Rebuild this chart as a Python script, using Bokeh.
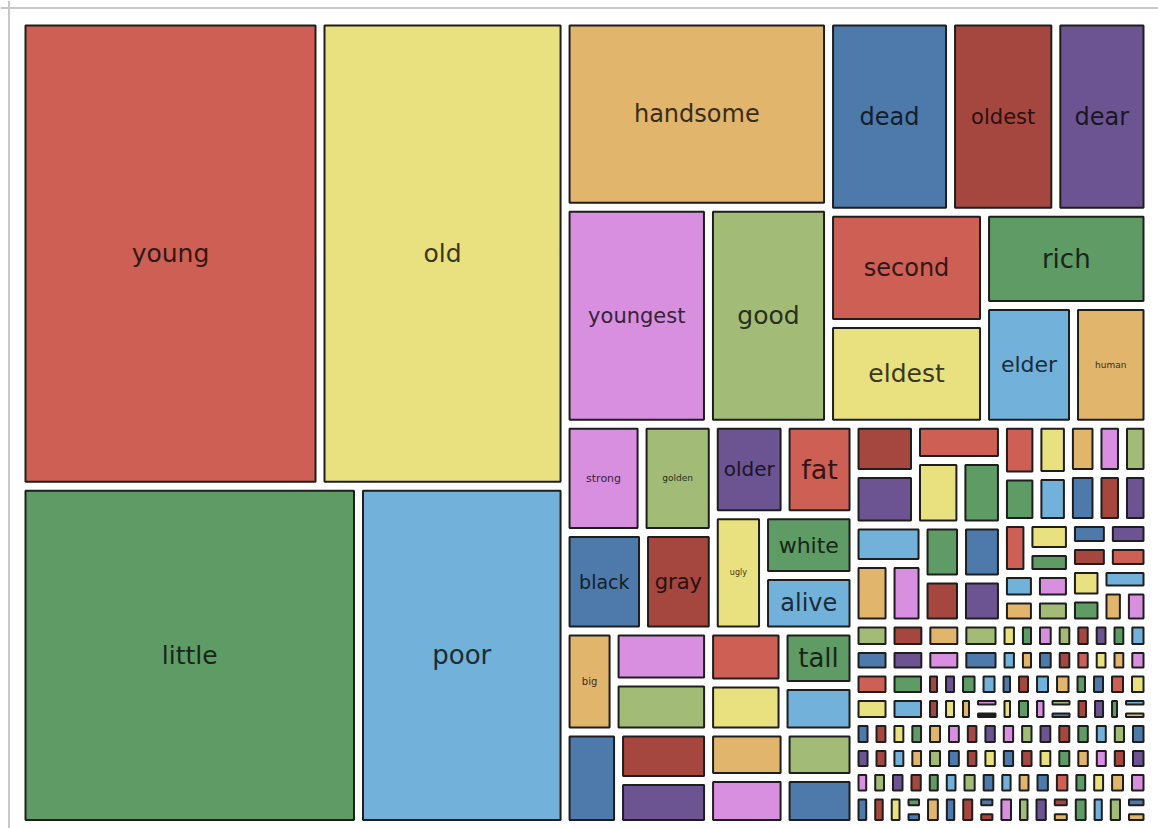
from bokeh.plotting import figure
from bokeh.models import Range1d, ColumnDataSource, Span
from bokeh.core.properties import value
from bokeh.embed import file_html
from bokeh.resources import INLINE

# ---------------- data ----------------
PALETTE = {
    "red": "#cd5f55", "yellow": "#e9e07f", "orange": "#e2b56d", "blue": "#4e79ab",
    "dred": "#a5463f", "purple": "#6c5493", "pink": "#d88fe0", "lgreen": "#a2bc78",
    "green": "#5f9b64", "lblue": "#72b1d9", "black": "#1e1e1e",
}

main_words = ["young", "old", "little", "poor", "handsome", "youngest", "good",
              "dead", "oldest", "dear", "second", "eldest", "rich", "elder", "human"]
main_values = [1391, 1140, 1142, 699, 490.6, 311.2, 260.6,
               233.3, 201.3, 176.3, 173.6, 157.1, 152.5, 105.6, 88.4]
main_colors = ["red", "yellow", "green", "lblue", "orange", "pink", "lgreen",
               "blue", "dred", "purple", "red", "yellow", "green", "lblue", "orange"]

mid_words = ["strong", "golden", "black", "gray", "older", "fat", "ugly", "white", "alive",
             "big", "", "", "", "", "tall", "",
             "", "", "", "", "", "", ""]
mid_values = [83.4, 77.1, 77.3, 68.7, 65.1, 62.5, 58.4, 54.9, 50.2,
              49.5, 48.2, 47.3, 38.7, 36.5, 38.7, 33.0,
              49.5, 43.7, 39.6, 34.8, 36.0, 31.4, 32.4]
mid_colors = ["pink", "lgreen", "blue", "dred", "purple", "red", "yellow", "green", "lblue",
              "orange", "pink", "lgreen", "red", "yellow", "green", "lblue",
              "blue", "dred", "purple", "orange", "pink", "lgreen", "blue"]

small_values = [30.3, 31.7, 31.6, 29.3, 26.8, 26.6, 21.4, 19.6, 20.8, 22.1, 16.9, 18.0,
                17.9, 16.0, 16.2, 14.8, 14.1, 14.0, 12.6, 12.5, 12.6, 12.5,
                13.0, 12.3, 9.4, 8.4, 7.9, 8.9, 8.4, 8.7, 9.1, 8.7, 9.1, 9.3, 7.9, 9.9, 7.4, 7.8]
small_colors = ["dred", "purple", "red", "yellow", "green", "lblue", "orange", "pink", "green", "blue", "dred", "purple",
                "red", "green", "yellow", "lblue", "orange", "blue", "pink", "dred", "lgreen", "purple",
                "red", "yellow", "green", "lblue", "orange", "pink", "lgreen", "blue", "purple", "dred", "red",
                "yellow", "green", "lblue", "orange", "pink"]

row1_values = [9.18, 9.13, 9.18, 9.74, 4.69, 4.36, 5.02, 4.74, 4.69, 4.54, 4.54, 5.15]
row1_colors = ["lgreen", "dred", "orange", "lgreen", "yellow", "green", "pink", "lgreen", "dred", "purple", "green", "lblue"]
row2_values = [8.46, 8.41, 8.46, 8.98, 4.32, 4.02, 4.63, 4.37, 4.32, 4.18, 4.18, 4.75]
row2_colors = ["blue", "purple", "pink", "blue", "lblue", "orange", "blue", "dred", "red", "yellow", "orange", "pink"]
row3_values = [8.82, 8.70, 3.92, 4.17, 5.02, 4.90, 3.80, 4.41, 4.90, 5.02, 4.04, 4.41, 4.90, 5.02]
row3_colors = ["red", "green", "dred", "purple", "green", "lblue", "blue", "dred", "lblue", "orange", "green", "blue", "red", "yellow"]
row4_values = [9.0, 8.88, 4.0, 4.25, 3.75, [3.31, 3.31], 3.63, 4.5, 3.88, [3.25, 3.25], 4.13, 4.25, 3.5, [3.31, 3.31]]
row4_colors = ["yellow", "lblue", "dred", "yellow", "orange", ["pink", "black"], "yellow", "green", "pink",
               ["lgreen", "blue"], "dred", "purple", "green", ["lblue", "orange"]]
row5_values = [4.5, 4.48, 4.48, 4.43, 4.75, 4.7, 4.4, 4.6, 4.58, 4.6, 4.7, 4.75, 4.63, 4.5, 4.55, 4.88]
row5_colors = ["blue", "dred", "yellow", "green", "orange", "pink", "dred", "purple", "pink", "lgreen",
               "purple", "dred", "green", "lblue", "lgreen", "blue"]
row6_values = [4.32, 4.3, 4.3, 4.25, 4.56, 4.51, 4.22, 4.42, 4.39, 4.42, 4.51, 4.56, 4.44, 4.32, 4.37, 4.68]
row6_colors = ["purple", "dred", "lblue", "orange", "lgreen", "blue", "dred", "yellow", "blue", "dred",
               "yellow", "green", "orange", "pink", "dred", "purple"]
row7_values = [4.09, 4.36, 4.53, 4.48, 4.17, 4.34, 4.70, 4.56, 4.24, 4.39, 4.75, 4.78, 4.36, 4.39, 4.88, 5.02]
row7_colors = ["pink", "lgreen", "purple", "dred", "green", "lblue", "lgreen", "blue", "lblue", "orange",
               "blue", "red", "green", "yellow", "orange", "pink"]
row8_values = [4.93, 4.87, 4.96, [2.88, 2.88], 5.55, 4.84, 5.31, [2.98, 2.98], 5.49, 4.87, 5.40,
               [3.1, 3.1], 5.55, 4.78, 5.37, [3.47, 3.47]]
row8_colors = ["blue", "dred", "yellow", ["green", "blue"], "orange", "blue", "dred", ["blue", "dred"], "pink",
               "lgreen", "purple", ["dred", "orange"], "green", "lblue", "lgreen", ["blue", "orange"]]

rows_values = [row1_values, row2_values, row3_values, row4_values,
               row5_values, row6_values, row7_values, row8_values]
rows_colors = [row1_colors, row2_colors, row3_colors, row4_colors,
               row5_colors, row6_colors, row7_colors, row8_colors]

label_size = {"young": 25, "old": 25, "little": 25, "poor": 26, "handsome": 24, "dead": 24,
              "oldest": 21, "dear": 24, "youngest": 21, "good": 25, "second": 24, "rich": 26,
              "eldest": 25, "elder": 22, "human": 9, "strong": 11, "golden": 9, "older": 20,
              "fat": 27, "black": 19, "gray": 21, "ugly": 8, "white": 22, "alive": 24,
              "tall": 26, "big": 10}


def flat(seq):
    out = []
    for v in seq:
        if isinstance(v, list):
            out.extend(v)
        else:
            out.append(v)
    return out


values = main_values + mid_values + small_values
colors = main_colors + mid_colors + small_colors
for rv, rc in zip(rows_values, rows_colors):
    values += flat(rv)
    colors += flat(rc)
words = main_words + mid_words + [""] * (len(values) - len(main_words) - len(mid_words))

# ---------------- hierarchy (slice layout) ----------------
_ids = iter(range(len(values)))


def c():
    return next(_ids)


def H(*k):
    return ("h", list(k))


def V(*k):
    return ("v", list(k))


def row(vals):
    return H(*[V(c(), c()) if isinstance(v, list) else c() for v in vals])


tree = H(
    V(H(c(), c()), H(c(), c())),
    V(
        H(
            V(c(), H(c(), c())),
            V(H(c(), c(), c()),
              H(V(c(), c()), V(c(), H(c(), c()))))
        ),
        H(
            V(
                H(V(H(c(), c()), H(c(), c())),
                  V(H(c(), c()), H(c(), V(c(), c())))),
                V(H(c(), V(c(), c()), V(c(), c()), V(c(), c())),
                  H(c(), V(c(), c()), V(c(), c()), V(c(), c())))
            ),
            V(
                H(
                    V(H(V(c(), c()), V(c(), H(c(), c()))),
                      H(V(c(), H(c(), c())), V(H(c(), c()), H(c(), c())))),
                    V(H(V(c(), c()), V(c(), c()), V(c(), c()), V(c(), c()), V(c(), c())),
                      H(V(H(c(), V(c(), c())), H(V(c(), c()), V(c(), c()))),
                        V(V(H(c(), c()), H(c(), c())), H(V(c(), c()), V(c(), H(c(), c()))))))
                ),
                *[row(rv) for rv in rows_values]
            )
        )
    )
)


def total(node):
    if isinstance(node, int):
        return values[node]
    return sum(total(k) for k in node[1])


cells = []


def layout(node, x0, y0, x1, y1):
    if isinstance(node, int):
        cells.append((node, x0, y0, x1, y1))
        return
    d, kids = node
    tot = total(node)
    pos = x0 if d == "h" else y0
    for k in kids:
        f = total(k) / tot
        if d == "h":
            w = (x1 - x0) * f
            layout(k, pos, y0, pos + w, y1)
            pos += w
        else:
            h = (y1 - y0) * f
            layout(k, x0, pos, x1, pos + h)
            pos += h


layout(tree, 20.5, 20.5, 1147.5, 824.0)

PAD = 4.5


def darken(hexc, f=0.25):
    r, g, b = int(hexc[1:3], 16), int(hexc[3:5], 16), int(hexc[5:7], 16)
    return "#%02x%02x%02x" % (int(r * f), int(g * f), int(b * f))


q = dict(left=[], right=[], top=[], bottom=[], fill=[])
lab = dict(x=[], y=[], text=[], size=[], color=[])
for i, x0, y0, x1, y1 in cells:
    col = PALETTE[colors[i]]
    q["left"].append(x0 + PAD)
    q["right"].append(x1 - PAD)
    q["top"].append(y0 + PAD)
    q["bottom"].append(y1 - PAD)
    q["fill"].append(col)
    if words[i]:
        lab["x"].append((x0 + x1) / 2)
        lab["y"].append((y0 + y1) / 2)
        lab["text"].append(words[i])
        lab["size"].append("%dpx" % label_size.get(words[i], 10))
        lab["color"].append(darken(col))

# ---------------- figure ----------------
p = figure(width=1158, height=828, x_range=Range1d(0, 1158), y_range=Range1d(828, 0),
           output_backend="svg", toolbar_location=None, min_border=0,
           x_axis_location=None, y_axis_location=None)
p.grid.visible = False
p.outline_line_color = None
p.background_fill_color = "white"
p.border_fill_color = "white"

p.add_layout(Span(location=7.5, dimension="width", line_color="#c8c8c8", line_width=2))
p.add_layout(Span(location=8.5, dimension="height", line_color="#c8c8c8", line_width=2))

p.quad(left="left", right="right", top="top", bottom="bottom", fill_color="fill",
       line_color="#1e1e1e", line_width=2, source=ColumnDataSource(q))
p.text(x="x", y="y", text="text", text_font_size="size", text_color="color",
       text_align="center", text_baseline="middle", text_font=value("DejaVu Sans"),
       source=ColumnDataSource(lab))

open("out.html", "w").write(file_html(p, INLINE))
